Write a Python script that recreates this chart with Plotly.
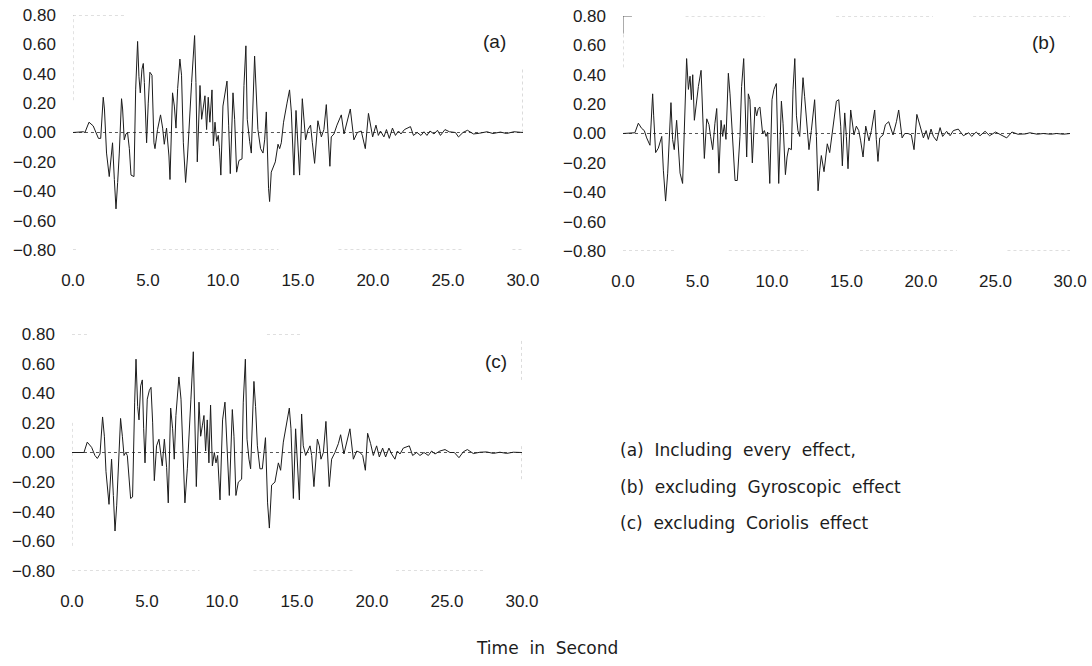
import plotly.graph_objects as go

# ---- response histories (time in s, response) ----
t_a = [0, 0.7, 0.8, 1.07, 1.35, 1.58, 1.7, 1.85, 2.02, 2.1, 2.24, 2.42, 2.5, 2.64, 2.76, 2.87, 2.98, 3.09, 3.24, 3.31,
       3.42, 3.53, 3.64, 3.76, 3.87, 4.07, 4.18, 4.31, 4.4, 4.49, 4.6, 4.69, 4.76, 4.87, 4.91, 5.02, 5.13, 5.27, 5.4, 5.47,
       5.64, 5.84, 5.98, 6.09, 6.24, 6.4, 6.47, 6.64, 6.76, 6.87, 6.98, 7.13, 7.24, 7.36, 7.51, 7.64, 7.8, 7.91, 8.11, 8.2,
       8.29, 8.47, 8.58, 8.69, 8.8, 8.91, 9.02, 9.13, 9.27, 9.36, 9.47, 9.58, 9.69, 9.76, 9.86, 10.0, 10.16, 10.27, 10.38,
       10.49, 10.67, 10.78, 10.91, 11.07, 11.27, 11.4, 11.53, 11.62, 11.78, 11.89, 12.11, 12.22, 12.33, 12.51, 12.67,
       12.78, 12.89, 13.04, 13.11, 13.22, 13.33, 13.49, 13.67, 13.78, 13.89, 14.04, 14.27, 14.44, 14.56, 14.73, 14.87,
       14.96, 15.11, 15.29, 15.4, 15.51, 15.67, 15.84, 15.96, 16.11, 16.33, 16.44, 16.56, 16.73, 16.89, 17.0, 17.13,
       17.22, 17.4, 17.6, 17.89, 18.07, 18.29, 18.49, 18.73, 18.96, 19.22, 19.49, 19.7, 19.85, 19.98, 20.2, 20.36, 20.5,
       20.73, 20.9, 21.09, 21.3, 21.5, 21.7, 21.87, 22.1, 22.5, 22.7, 22.95, 23.2, 23.4, 23.6, 23.8, 24.07, 24.3, 24.5,
       24.8, 25.1, 25.5, 25.7, 26.0, 26.3, 26.7, 27.1, 27.6, 28.0, 28.5, 28.9, 29.4, 30.0]
v_a = [0, 0.005, 0, 0.07, 0.045, -0.01, -0.04, -0.04, 0.24, 0.16, -0.14, -0.30, -0.23, -0.07, -0.32, -0.52, -0.34, -0.14,
       0.23, 0.16, -0.05, -0.01, 0, -0.11, -0.29, -0.30, 0.29, 0.62, 0.38, 0.27, 0.43, 0.47, 0.34, -0.02, -0.07, 0.20,
       0.41, 0.39, -0.07, -0.11, 0.02, 0.12, 0.03, -0.08, 0.03, -0.16, -0.32, 0.27, 0.18, 0.03, 0.30, 0.50, 0.39, -0.07,
       -0.34, -0.16, 0.16, 0.34, 0.66, 0.34, -0.20, 0.32, 0.09, 0.18, 0.25, 0.02, 0.24, 0.07, 0.29, -0.09, 0.07, -0.06,
       -0.02, -0.10, -0.29, 0.18, 0.29, 0.35, 0.05, -0.28, 0.27, 0.09, -0.27, -0.19, -0.18, 0.32, 0.59, 0.09, -0.06,
       -0.14, 0.52, 0.20, 0.02, -0.11, -0.14, -0.05, 0.14, -0.38, -0.47, -0.27, -0.24, -0.20, -0.08, -0.11, -0.07, 0.07,
       0.20, 0.29, 0.14, -0.29, 0.15, -0.02, -0.29, 0.23, 0.07, -0.05, 0.02, 0.05, -0.07, -0.21, 0.08, 0.02, -0.03, 0.02,
       0.19, 0, -0.23, -0.03, -0.01, 0.05, 0.12, -0.01, 0.09, 0.16, -0.05, 0, 0.01, -0.11, 0.13, 0.05, -0.03, 0.05, -0.02,
       0.01, -0.03, 0.02, -0.04, 0.03, -0.02, 0.01, -0.01, 0.02, 0.04, -0.02, 0, -0.02, 0.005, -0.02, 0.01, -0.01, 0.015,
       -0.02, 0.02, 0.005, 0, -0.03, 0, 0.015, -0.01, -0.005, 0.005, -0.007, 0.003, -0.007, 0.005, 0]

t_b = [0, 0.8, 1.03, 1.25, 1.43, 1.59, 1.81, 1.99, 2.06, 2.19, 2.37, 2.53, 2.6, 2.71, 2.86, 3.0, 3.11, 3.22, 3.33, 3.44,
       3.6, 3.71, 3.83, 4.0, 4.16, 4.27, 4.39, 4.5, 4.59, 4.68, 4.79, 4.88, 5.06, 5.24, 5.35, 5.46, 5.62, 5.77, 5.88,
       6.02, 6.17, 6.29, 6.44, 6.58, 6.69, 6.8, 6.91, 7.07, 7.18, 7.34, 7.52, 7.67, 7.85, 7.96, 8.1, 8.21, 8.3, 8.41,
       8.52, 8.68, 8.86, 8.97, 9.08, 9.19, 9.37, 9.49, 9.6, 9.71, 9.85, 10.0, 10.13, 10.29, 10.45, 10.63, 10.74, 10.9,
       11.01, 11.12, 11.3, 11.41, 11.53, 11.64, 11.74, 11.86, 12.08, 12.19, 12.35, 12.48, 12.64, 12.86, 12.98, 13.09,
       13.2, 13.31, 13.49, 13.71, 13.87, 14.1, 14.32, 14.48, 14.61, 14.72, 14.88, 14.99, 15.1, 15.28, 15.39, 15.5,
       15.66, 15.82, 15.95, 16.11, 16.29, 16.4, 16.51, 16.67, 16.89, 17.0, 17.11, 17.23, 17.45, 17.61, 17.83, 18.12,
       18.35, 18.5, 18.73, 18.91, 19.13, 19.35, 19.53, 19.72, 19.93, 20.16, 20.34, 20.49, 20.67, 20.83, 21.05, 21.28,
       21.45, 21.72, 21.95, 22.17, 22.5, 22.84, 23.2, 23.4, 23.7, 23.96, 24.3, 24.6, 25.0, 25.3, 25.75, 26.1, 26.5,
       27.0, 27.3, 27.8, 28.2, 28.7, 29.1, 29.55, 30.0]
v_b = [0, 0.005, 0.07, 0.035, 0.02, -0.03, -0.08, 0.27, 0.12, -0.13, -0.10, -0.05, -0.02, -0.25, -0.46, -0.27, -0.07,
       0.21, -0.04, -0.11, 0.09, -0.11, -0.27, -0.34, 0.25, 0.51, 0.30, 0.39, 0.23, 0.40, 0.09, 0.18, 0.32, 0.43, 0.09,
       -0.17, 0.10, 0.06, -0.02, -0.11, 0.07, 0.17, -0.27, 0.09, -0.02, 0.06, -0.04, 0.41, 0.27, -0.02, -0.32, -0.32,
       -0.02, 0.32, 0.51, 0.16, -0.16, 0.27, 0.23, -0.20, 0.18, 0.12, 0.17, 0.18, 0, 0.02, -0.02, 0.01, -0.34, 0.23,
       0.30, 0.34, -0.34, 0.22, 0.07, -0.28, -0.16, -0.10, -0.11, 0.30, 0.51, 0.12, 0.02, -0.02, 0.38, 0.25, 0.02,
       -0.11, 0.02, 0.23, -0.02, -0.39, -0.25, -0.15, -0.26, -0.07, -0.13, 0.07, 0.22, 0.23, 0.05, -0.22, 0.14, -0.02,
       -0.24, 0.16, 0.05, -0.01, 0.05, 0.02, -0.05, -0.16, 0.05, 0, -0.05, 0.02, 0.16, -0.04, -0.19, -0.03, -0.01, 0.06,
       0.08, -0.01, 0.08, 0.16, -0.03, 0, 0, -0.01, -0.11, 0.13, 0.05, -0.03, 0.02, -0.04, 0.03, -0.02, -0.05, 0.04,
       -0.02, 0.015, -0.015, 0.02, 0.03, -0.015, 0.005, -0.02, 0.01, -0.015, 0.015, -0.015, 0.01, -0.005, -0.03, 0.01,
       -0.005, -0.003, 0.005, -0.005, 0, -0.005, 0, -0.005, 0]

t_c = [0, 0.64, 0.8, 1.02, 1.31, 1.53, 1.69, 1.87, 2.04, 2.16, 2.27, 2.47, 2.64, 2.76, 2.87, 2.98, 3.09, 3.24, 3.36,
       3.47, 3.58, 3.69, 3.91, 4.04, 4.18, 4.27, 4.38, 4.47, 4.58, 4.69, 4.78, 4.87, 5.02, 5.16, 5.27, 5.38, 5.49, 5.64,
       5.8, 5.91, 6.02, 6.16, 6.31, 6.42, 6.58, 6.71, 6.82, 6.93, 7.13, 7.27, 7.42, 7.53, 7.69, 7.82, 7.93, 8.09, 8.18,
       8.29, 8.47, 8.58, 8.69, 8.8, 8.91, 9.02, 9.13, 9.24, 9.36, 9.49, 9.6, 9.71, 9.87, 10.04, 10.2, 10.31, 10.49, 10.69,
       10.8, 10.93, 11.09, 11.31, 11.42, 11.56, 11.67, 11.8, 11.91, 12.13, 12.24, 12.36, 12.53, 12.69, 12.8, 12.9, 13.04,
       13.16, 13.31, 13.53, 13.76, 13.91, 14.09, 14.27, 14.49, 14.6, 14.76, 14.91, 15.0, 15.16, 15.31, 15.42, 15.58,
       15.87, 15.98, 16.13, 16.36, 16.49, 16.6, 16.76, 16.93, 17.04, 17.15, 17.31, 17.53, 17.76, 17.91, 18.13, 18.36,
       18.53, 18.76, 18.98, 19.2, 19.38, 19.56, 19.71, 19.91, 20.09, 20.31, 20.49, 20.71, 20.91, 21.13, 21.31, 21.53,
       21.69, 21.87, 22.09, 22.49, 22.71, 22.98, 23.2, 23.47, 23.76, 23.98, 24.2, 24.53, 24.87, 25.2, 25.49, 25.8,
       26.09, 26.36, 26.76, 27.2, 27.64, 28.09, 28.53, 28.98, 29.42, 30.0]
v_c = [0, 0, 0, 0.07, 0.035, -0.02, -0.04, -0.01, 0.24, 0.11, -0.13, -0.35, -0.045, -0.29, -0.53, -0.36, -0.13, 0.23,
       0.11, -0.02, 0, -0.02, -0.31, -0.30, 0.34, 0.63, 0.31, 0.22, 0.45, 0.49, 0.16, -0.07, 0.36, 0.42, 0.44, 0.20,
       -0.19, 0.045, 0.09, -0.02, -0.09, 0.09, -0.10, -0.34, 0.30, 0.16, -0.045, 0.25, 0.51, 0.36, -0.11, -0.34, -0.11,
       0.20, 0.36, 0.68, 0.34, -0.23, 0.34, 0.11, 0.18, 0.25, 0.01, 0.22, -0.07, 0.32, -0.09, 0, -0.07, -0.02, -0.32,
       0.22, 0.34, 0.10, -0.29, 0.29, 0.11, -0.29, -0.20, -0.18, 0.34, 0.63, 0.09, -0.045, -0.11, 0.48, 0.31, 0.045,
       -0.11, -0.11, 0, 0.10, -0.34, -0.51, -0.22, -0.20, -0.07, -0.12, 0.07, 0.18, 0.30, 0.16, -0.31, 0.16, -0.02,
       -0.32, 0.26, 0.045, -0.02, 0.045, -0.02, -0.23, 0.09, 0.045, -0.045, 0, 0.21, 0, -0.23, -0.045, 0, 0.06, 0.12,
       -0.01, 0.09, 0.16, -0.045, 0.01, 0, -0.02, -0.12, 0.13, 0.06, -0.02, 0.045, -0.03, 0.03, -0.03, 0.03, -0.01,
       -0.045, 0.01, -0.01, 0.03, 0.045, -0.02, 0, -0.02, 0, -0.02, 0.01, -0.01, 0.01, 0.02, 0, 0, -0.035, 0.005, 0.02,
       -0.007, 0.002, 0.004, -0.006, 0.002, -0.006, 0.002, 0]

# ---- tick labels ----
x_tickvals = [0, 5, 10, 15, 20, 25, 30]
x_ticktext = ["0.0", "5.0", "10.0", "15.0", "20.0", "25.0", "30.0"]
y_tickvals = [0.8, 0.6, 0.4, 0.2, 0.0, -0.2, -0.4, -0.6, -0.8]
y_ticktext = ["0.80", "0.60", "0.40", "0.20", "0.00", "\u22120.20", "\u22120.40", "\u22120.60", "\u22120.80"]

panel_tags = ["(a)", "(b)", "(c)"]
case_notes = ["(a)\u00a0\u00a0Including\u00a0\u00a0every\u00a0\u00a0effect,",
              "(b)\u00a0\u00a0excluding\u00a0\u00a0Gyroscopic\u00a0\u00a0effect",
              "(c)\u00a0\u00a0excluding\u00a0\u00a0Coriolis\u00a0\u00a0effect"]
x_title = "Time\u00a0\u00a0in\u00a0\u00a0Second"

# faint frame remnants (axis id, orientation, fixed value, start, end)
frame_bits = [
    ("", "h", 0.8, 0, 3.6), ("", "v", 0, 0.22, 0.8), ("", "h", -0.8, 0, 0.4), ("", "h", -0.8, 5.2, 13.7),
    ("", "h", -0.8, 17.7, 26.0), ("", "h", -0.8, 29.3, 30), ("", "v", 30, 0.0, 0.43),
    ("2", "h", 0.8, 4.2, 9.5), ("2", "h", 0.8, 14.3, 20.8), ("2", "h", 0.8, 23.5, 30), ("2", "v", 0, 0.45, 0.7),
    ("2", "h", -0.8, 0, 3.5), ("2", "h", -0.8, 7.1, 12.4), ("2", "h", -0.8, 15.9, 22.4), ("2", "h", -0.8, 25.8, 30),
    ("3", "h", 0.8, 0, 1.2), ("3", "h", 0.8, 13.0, 15.4), ("3", "v", 0, -0.63, 0.21), ("3", "h", -0.8, 0, 8.5),
    ("3", "h", -0.8, 12.1, 18.8), ("3", "h", -0.8, 21.6, 27.4), ("3", "v", 30, 0.49, 0.76), ("3", "v", 30, -0.18, 0.045),
]

INK = "#1c1c1c"
TICK_FONT = "Liberation Sans"
TEXT_FONT = "DejaVu Sans"

fig = go.Figure()
for ax, (t, v) in zip(["", "2", "3"], [(t_a, v_a), (t_b, v_b), (t_c, v_c)]):
    fig.add_trace(go.Scatter(x=t, y=v, mode="lines", xaxis="x" + ax, yaxis="y" + ax,
                             line=dict(color=INK, width=1), showlegend=False, hoverinfo="skip"))

shapes = []
for ax in ["", "2", "3"]:
    # dotted zero reference line
    shapes.append(dict(type="line", xref="x" + ax, yref="y" + ax, x0=0, x1=30, y0=0, y1=0,
                       line=dict(color="#555555", width=1, dash="dot"), layer="below"))
for ax, o, c, s, e in frame_bits:
    if o == "h":
        shapes.append(dict(type="line", xref="x" + ax, yref="y" + ax, x0=s, x1=e, y0=c, y1=c,
                           line=dict(color="#bdbdbd", width=1, dash="dot"), layer="below"))
    else:
        shapes.append(dict(type="line", xref="x" + ax, yref="y" + ax, x0=c, x1=c, y0=s, y1=e,
                           line=dict(color="#bdbdbd", width=1, dash="dot"), layer="below"))
# solid corner mark on panel (b)
shapes.append(dict(type="line", xref="x2", yref="y2", x0=0, x1=0.6, y0=0.8, y1=0.8,
                   line=dict(color="#555555", width=1)))
shapes.append(dict(type="line", xref="x2", yref="y2", x0=0, x1=0, y0=0.68, y1=0.8,
                   line=dict(color="#555555", width=1)))

xdom = {"": [0.0668, 0.4789], "2": [0.5705, 0.9799], "3": [0.0659, 0.4780]}
ydom = {"": [0.6246, 0.9775], "2": [0.6231, 0.9760], "3": [0.1426, 0.4985]}

layout = dict(width=1092, height=666, margin=dict(l=0, r=0, t=0, b=0, autoexpand=False),
              paper_bgcolor="white", plot_bgcolor="white", shapes=shapes,
              font=dict(family=TICK_FONT, size=16, color=INK))
for ax in ["", "2", "3"]:
    layout["xaxis" + ax] = dict(domain=xdom[ax], anchor="y" + ax, range=[0, 30], showgrid=False, zeroline=False,
                                showline=False, ticks="", tickvals=x_tickvals, ticktext=x_ticktext,
                                automargin=False, ticklabelstandoff=18,
                                tickfont=dict(family=TICK_FONT, size=17, color=INK))
    layout["yaxis" + ax] = dict(domain=ydom[ax], anchor="x" + ax, range=[-0.8, 0.8], showgrid=False, zeroline=False,
                                showline=False, ticks="", tickvals=y_tickvals, ticktext=y_ticktext,
                                automargin=False, ticklabelstandoff=16,
                                tickfont=dict(family=TICK_FONT, size=17, color=INK))

annotations = []
for ax, tag, tx in zip(["", "2", "3"], panel_tags, [28.1, 28.2, 28.3]):
    annotations.append(dict(text=tag, xref="x" + ax, yref="y" + ax, x=tx, y=0.617, showarrow=False,
                            xanchor="center", yanchor="middle", font=dict(family=TICK_FONT, size=19, color=INK)))
for i, note in enumerate(case_notes):
    annotations.append(dict(text=note, xref="paper", yref="paper", x=0.566, y=[0.3243, 0.2688, 0.2147][i],
                            showarrow=False, xanchor="left", yanchor="middle",
                            font=dict(family=TEXT_FONT, size=17, color=INK)))
annotations.append(dict(text=x_title, xref="paper", yref="paper", x=0.5009, y=0.027, showarrow=False,
                        xanchor="center", yanchor="middle", font=dict(family=TEXT_FONT, size=17, color=INK)))
layout["annotations"] = annotations

fig.update_layout(**layout)
fig.write_html("out.html")
